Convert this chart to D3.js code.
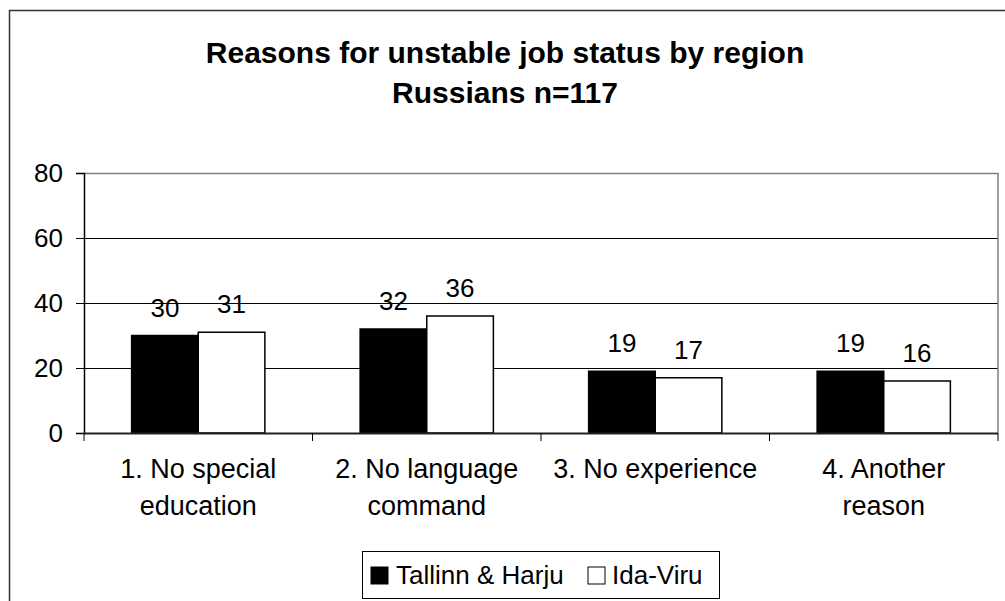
<!DOCTYPE html>
<html>
<head>
<meta charset="utf-8">
<script src="https://cdn.jsdelivr.net/npm/d3@7"></script>
<style>
  html, body { margin: 0; padding: 0; background: #fff; }
  svg { display: block; font-family: Arial, "Liberation Sans", sans-serif; }
</style>
</head>
<body>
<svg id="chart" width="1005" height="601"></svg>
<script>
const titleLines = ["Reasons for unstable job status by region", "Russians n=117"];
const categories = [["1. No special", "education"], ["2. No language", "command"], ["3. No experience"], ["4. Another", "reason"]];
const seriesNames = ["Tallinn & Harju", "Ida-Viru"];
const tallinn = [30, 32, 19, 19];
const idaViru = [31, 36, 17, 16];
const yTicks = [0, 20, 40, 60, 80];

const svg = d3.select("#chart");
const W = 1005, H = 601;
const plot = { left: 84, right: 998, top: 173, bottom: 433 };

// outer chart border (top and left visible)
svg.append("path")
  .attr("d", `M9.5,${H} L9.5,10.5 L${W},10.5`)
  .attr("fill", "none").attr("stroke", "#333").attr("stroke-width", 1.5);

// title
svg.append("text").attr("text-anchor", "middle")
  .attr("font-weight", "bold").attr("font-size", 30)
  .selectAll("tspan").data(titleLines).join("tspan")
  .attr("x", 505).attr("y", (d, i) => 63 + i * 40).text(d => d);

const idx = categories.map((d, i) => i);
const x0 = d3.scaleBand().domain(idx).range([plot.left, plot.right]).paddingInner(0).paddingOuter(0);
const series = [tallinn, idaViru];
const x1 = d3.scaleBand().domain([0, 1]).range([0, x0.bandwidth()]).paddingOuter(0.715).paddingInner(0);
const y = d3.scaleLinear().domain([0, 80]).range([plot.bottom, plot.top]);

// gridlines
svg.append("g").selectAll("line").data(yTicks.filter(t => t > 0)).join("line")
  .attr("x1", plot.left).attr("x2", plot.right)
  .attr("y1", d => Math.round(y(d)) + 0.5).attr("y2", d => Math.round(y(d)) + 0.5)
  .attr("stroke", "#000").attr("stroke-width", 1);

// plot border (top, right) gray
svg.append("path")
  .attr("d", `M${plot.left},${plot.top + 0.5} L${plot.right},${plot.top + 0.5} L${plot.right},${plot.bottom}`)
  .attr("fill", "none").attr("stroke", "#808080").attr("stroke-width", 1.5);

// bars
const groups = svg.append("g").selectAll("g").data(idx).join("g")
  .attr("transform", i => `translate(${x0(i)},0)`);
groups.selectAll("rect").data(i => series.map((s, k) => ({ k, v: s[i] }))).join("rect")
  .attr("x", d => x1(d.k)).attr("width", x1.bandwidth())
  .attr("y", d => y(d.v)).attr("height", d => y(0) - y(d.v))
  .attr("fill", d => d.k === 0 ? "#000" : "#fff")
  .attr("stroke", "#000").attr("stroke-width", 1.5);
groups.selectAll("text").data(i => series.map((s, k) => ({ k, v: s[i] }))).join("text")
  .attr("x", d => x1(d.k) + x1.bandwidth() / 2).attr("y", d => y(d.v) - 19)
  .attr("text-anchor", "middle").attr("font-size", 26).text(d => d.v);

// y axis
const yAxis = d3.axisLeft(y).tickValues(yTicks).tickSize(8).tickPadding(13);
const gy = svg.append("g").attr("transform", `translate(${plot.left},0)`).call(yAxis);
gy.select(".domain").attr("stroke", "#000").attr("stroke-width", 1.5);
gy.selectAll(".tick line").attr("stroke", "#000");
gy.selectAll(".tick text").attr("font-size", 26).attr("font-family", "Arial, 'Liberation Sans', sans-serif").attr("fill", "#000");

// x axis: boundaries ticks
const boundaries = d3.range(categories.length + 1).map(i => i === categories.length ? plot.right : x0(i));
svg.append("line").attr("x1", plot.left).attr("x2", plot.right)
  .attr("y1", plot.bottom + 0.5).attr("y2", plot.bottom + 0.5)
  .attr("stroke", "#222").attr("stroke-width", 2);
svg.append("g").selectAll("line").data(boundaries).join("line")
  .attr("x1", d => d).attr("x2", d => d)
  .attr("y1", plot.bottom).attr("y2", plot.bottom + 8)
  .attr("stroke", "#000").attr("stroke-width", 1);

// category labels
svg.append("g").selectAll("text").data(idx).join("text")
  .attr("text-anchor", "middle").attr("font-size", 27)
  .each(function (i) {
    d3.select(this).selectAll("tspan").data(categories[i]).join("tspan")
      .attr("x", x0(i) + x0.bandwidth() / 2)
      .attr("y", (d, j) => 478 + j * 37).text(d => d);
  });

// legend
const lg = svg.append("g");
lg.append("rect").attr("x", 362.5).attr("y", 551.5).attr("width", 357).attr("height", 47)
  .attr("fill", "#fff").attr("stroke", "#000").attr("stroke-width", 1);
const legendItems = [
  { name: seriesNames[0], fill: "#000", mx: 371, tx: 396 },
  { name: seriesNames[1], fill: "#fff", mx: 588, tx: 612 }
];
lg.selectAll("rect.m").data(legendItems).join("rect").attr("class", "m")
  .attr("x", d => d.mx).attr("y", 567).attr("width", 17).attr("height", 17)
  .attr("fill", d => d.fill).attr("stroke", "#000").attr("stroke-width", 1);
lg.selectAll("text").data(legendItems).join("text")
  .attr("x", d => d.tx).attr("y", 584).attr("font-size", 26).text(d => d.name);
</script>
</body>
</html>
